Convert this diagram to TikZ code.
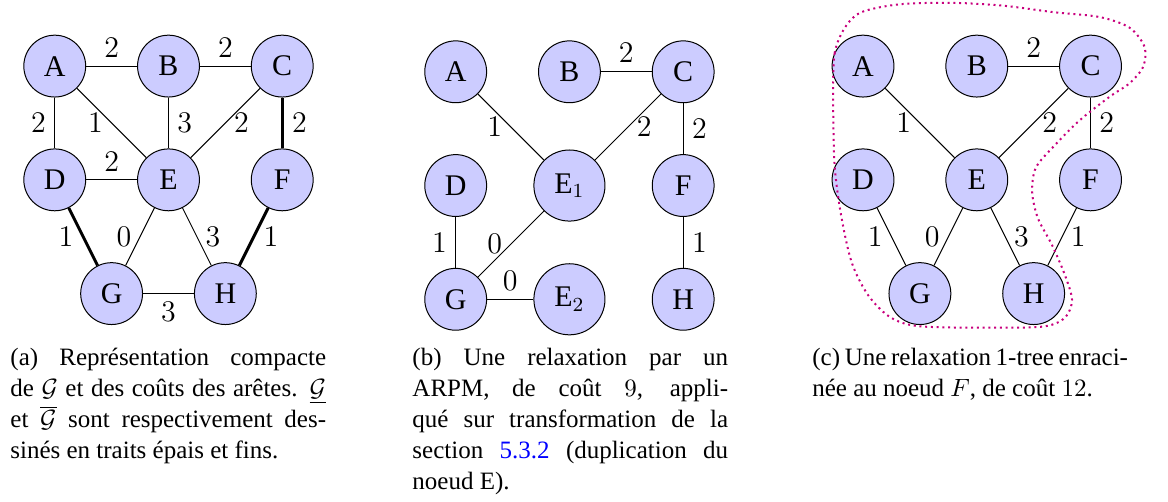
\documentclass[tikz,border=0pt]{standalone}
\usepackage{amsmath}
\usepackage{fontspec}
\setmainfont{Liberation Serif}

\definecolor{rootloop}{RGB}{200,0,125}

\begin{document}
\begin{tikzpicture}[
            vertex/.style={circle,draw,fill=blue!20,minimum size=0.87cm,inner sep=0pt,font=\large},
            bigvertex/.style={vertex,minimum size=1cm},
            cost/.style={font=\large},
            heavy/.style={very thick},
            legend/.style={anchor=north west,inner sep=0pt,text width=4.44cm,align=justify,
                font=\fontsize{10}{12.4}\selectfont}
        ]
            \useasboundingbox (0,0) rectangle (16.43,-7.05);

            % (a)
            \begin{scope}[shift={(0.77,-0.93)}]
                \node[vertex] (aA) at (0,0) {$\mathrm{A}$};
                \node[vertex] (aB) at (1.6,0) {$\mathrm{B}$};
                \node[vertex] (aC) at (3.2,0) {$\mathrm{C}$};
                \node[vertex] (aD) at (0,-1.6) {$\mathrm{D}$};
                \node[vertex] (aE) at (1.6,-1.6) {$\mathrm{E}$};
                \node[vertex] (aF) at (3.2,-1.6) {$\mathrm{F}$};
                \node[vertex] (aG) at (0.8,-3.2) {$\mathrm{G}$};
                \node[vertex] (aH) at (2.4,-3.2) {$\mathrm{H}$};
                \draw (aA) -- node[cost,above]{$2$} (aB);
                \draw (aB) -- node[cost,above]{$2$} (aC);
                \draw (aA) -- node[cost,left]{$2$} (aD);
                \draw (aA) -- node[cost,left]{$1$} (aE);
                \draw (aB) -- node[cost,right]{$3$} (aE);
                \draw (aC) -- node[cost,right]{$2$} (aE);
                \draw[heavy] (aC) -- node[cost,right]{$2$} (aF);
                \draw (aD) -- node[cost,above]{$2$} (aE);
                \draw[heavy] (aD) -- node[cost,left]{$1$} (aG);
                \draw (aE) -- node[cost,left]{$0$} (aG);
                \draw (aE) -- node[cost,right]{$3$} (aH);
                \draw[heavy] (aF) -- node[cost,right]{$1$} (aH);
                \draw (aG) -- node[cost,below]{$3$} (aH);
            \end{scope}

            % (b)
            \begin{scope}[shift={(6.41,-1.01)}]
                \node[vertex] (bA) at (0,0) {$\mathrm{A}$};
                \node[vertex] (bB) at (1.6,0) {$\mathrm{B}$};
                \node[vertex] (bC) at (3.2,0) {$\mathrm{C}$};
                \node[vertex] (bD) at (0,-1.6) {$\mathrm{D}$};
                \node[bigvertex] (bE1) at (1.6,-1.6) {$\mathrm{E}_1$};
                \node[vertex] (bF) at (3.2,-1.6) {$\mathrm{F}$};
                \node[vertex] (bG) at (0,-3.2) {$\mathrm{G}$};
                \node[bigvertex] (bE2) at (1.6,-3.2) {$\mathrm{E}_2$};
                \node[vertex] (bH) at (3.2,-3.2) {$\mathrm{H}$};
                \draw (bA) -- node[cost,left]{$1$} (bE1);
                \draw (bB) -- node[cost,above]{$2$} (bC);
                \draw (bC) -- node[cost,right]{$2$} (bE1);
                \draw (bC) -- node[cost,right]{$2$} (bF);
                \draw (bD) -- node[cost,left]{$1$} (bG);
                \draw (bE1) -- node[cost,left]{$0$} (bG);
                \draw (bG) -- node[cost,above]{$0$} (bE2);
                \draw (bF) -- node[cost,right]{$1$} (bH);
            \end{scope}

            % (c)
            \begin{scope}[shift={(12.14,-0.93)}]
                \node[vertex] (cA) at (0,0) {$\mathrm{A}$};
                \node[vertex] (cB) at (1.6,0) {$\mathrm{B}$};
                \node[vertex] (cC) at (3.2,0) {$\mathrm{C}$};
                \node[vertex] (cD) at (0,-1.6) {$\mathrm{D}$};
                \node[vertex] (cE) at (1.6,-1.6) {$\mathrm{E}$};
                \node[vertex] (cF) at (3.2,-1.6) {$\mathrm{F}$};
                \node[vertex] (cG) at (0.8,-3.2) {$\mathrm{G}$};
                \node[vertex] (cH) at (2.4,-3.2) {$\mathrm{H}$};
                \draw (cA) -- node[cost,left]{$1$} (cE);
                \draw (cB) -- node[cost,above]{$2$} (cC);
                \draw (cC) -- node[cost,right]{$2$} (cE);
                \draw (cC) -- node[cost,right]{$2$} (cF);
                \draw (cD) -- node[cost,left]{$1$} (cG);
                \draw (cE) -- node[cost,left]{$0$} (cG);
                \draw (cE) -- node[cost,right]{$3$} (cH);
                \draw (cF) -- node[cost,right]{$1$} (cH);
            \end{scope}
            \draw[rootloop,line width=0.8pt,dash pattern=on 0.8pt off 1.5pt]
                plot[smooth cycle] coordinates {
                    (11.72,-1.41) (11.74,-0.75) (11.89,-0.38) (12.12,-0.17) (12.66,-0.06)
                    (13.40,-0.04) (14.11,-0.08) (14.81,-0.17) (15.47,-0.24) (15.89,-0.39)
                    (16.10,-0.66) (16.08,-0.94) (15.89,-1.17) (15.61,-1.36) (15.19,-1.69)
                    (14.84,-2.04) (14.57,-2.36) (14.52,-2.71) (14.60,-3.07) (14.80,-3.45)
                    (14.98,-3.87) (15.08,-4.22) (14.98,-4.47) (14.70,-4.59) (14.07,-4.61)
                    (12.94,-4.59) (12.52,-4.46) (12.21,-4.15) (11.98,-3.69) (11.83,-3.02)
                    (11.74,-2.32)};

            \node[legend] (capa) at (0.14,-4.895) {(a) Représentation compacte\linebreak
                de $\mathcal{G}$ et des coûts des arêtes. $\underline{\mathcal{G}}$\linebreak
                et $\overline{\mathcal{G}}$ sont respectivement des-\linebreak
                sinés en traits épais et fins.};
            \node[legend] (capb) at (5.795,-4.895) {(b) Une relaxation par un\linebreak
                ARPM, de coût $9$, appli-\linebreak
                qué sur transformation de la\linebreak
                section \textcolor{blue}{5.3.2} (duplication du\linebreak
                noeud E).};
            \node[legend] (capc) at (11.42,-4.895) {(c) Une relaxation 1-tree enraci-\linebreak
                née au noeud $F$, de coût $12$.};
        \end{tikzpicture}
\end{document}
